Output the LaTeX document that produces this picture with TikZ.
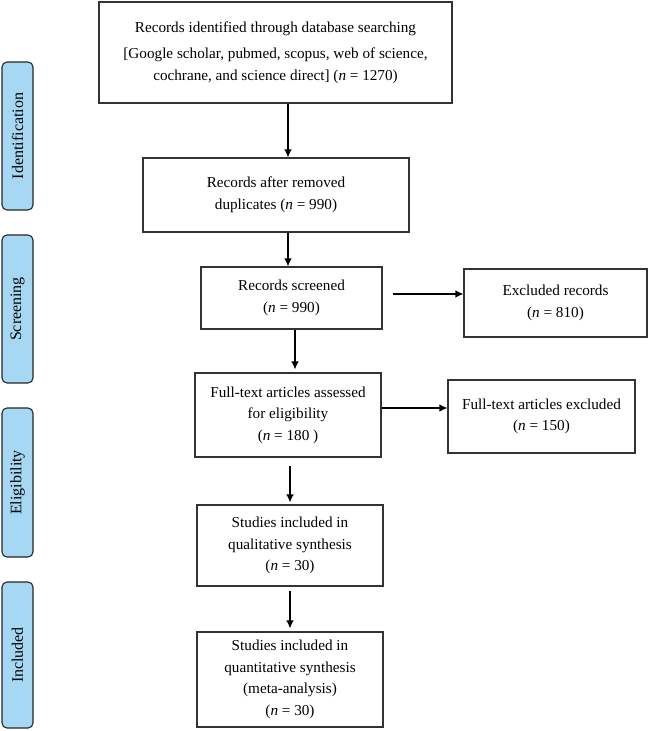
\documentclass[tikz,border=0pt]{standalone}
\usepackage{fontspec}
\setmainfont{Liberation Serif}
\usetikzlibrary{arrows.meta}
\definecolor{tabblue}{RGB}{166,216,244}

\begin{document}
\begin{tikzpicture}[x=1pt, y=-1pt,
	font=\fontsize{15.2}{21.5}\selectfont,
	box/.style={draw=black!80, line width=1.1pt, align=center, inner sep=0pt},
	phase/.style={draw=black!85, line width=1.1pt, rounded corners=5pt, fill=tabblue, minimum width=31pt, inner sep=0pt, font=\fontsize{16}{20}\selectfont},
	arr/.style={line width=1.2pt, -{Latex[length=8pt, width=7.5pt]}}]
\useasboundingbox (0,0) rectangle (651,731);

	%% Phasen links
	\node[phase, minimum height=148pt] (ident) at (17.5,136) {\rotatebox{90}{Identification}};
	\node[phase, minimum height=148pt] (screen) at (17.5,309) {\rotatebox{90}{Screening}};
	\node[phase, minimum height=149pt] (elig) at (17.5,482.5) {\rotatebox{90}{Eligibility}};
	\node[phase, minimum height=146pt] (incl) at (17.5,655) {\rotatebox{90}{Included}};
	%%%%%%%%%%%%%%%%

	%% Kaesten
	\node[box, minimum width=353pt, minimum height=101pt] (found) at (275.5,52.5) {\raisebox{-3pt}{Records identified through database searching}\\[8pt]
		[Google scholar, pubmed, scopus, web of science,\\ cochrane, and science direct] (\textit{n} = 1270)};
	\node[box, minimum width=266pt, minimum height=74pt] (dupl) at (276,195) {Records after removed\\ duplicates (\textit{n} = 990)};
	\node[box, minimum width=181pt, minimum height=62pt] (screened) at (291.5,298) {Records screened\\ (\textit{n} = 990)};
	\node[box, minimum width=183pt, minimum height=68pt] (excl) at (555.5,303) {Excluded records\\ (\textit{n} = 810)};
	\node[box, minimum width=186pt, minimum height=84pt] (full) at (288,415) {Full-text articles assessed\\ for eligibility\\ (\textit{n} = 180 )};
	\node[box, minimum width=187pt, minimum height=73pt] (fullexcl) at (541.5,416.5) {Full-text articles excluded\\ (\textit{n} = 150)};
	\node[box, minimum width=186pt, minimum height=81pt] (qual) at (290,545.5) {Studies included in\\ qualitative synthesis\\ (\textit{n} = 30)};
	\node[box, minimum width=186pt, minimum height=95pt] (quant) at (290,679.5) {Studies included in\\ quantitative synthesis\\ (meta-analysis)\\ (\textit{n} = 30)};
	%%%%%%%%%%%%%%%%

	%% Pfeile
	\draw[arr] ([xshift=12.5pt]found.south) -- ([xshift=12.5pt]found.south |- dupl.north);
	\draw[arr] ([xshift=12pt]dupl.south) -- ([xshift=12pt]dupl.south |- screened.north);
	\draw[arr, shorten <=10pt] ([yshift=4pt]screened.east) -- ([yshift=4pt]screened.east -| excl.west);
	\draw[arr, shorten >=3pt] ([xshift=3.5pt]screened.south) -- ([xshift=3.5pt]screened.south |- full.north);
	\draw[arr] ([yshift=7pt]full.east) -- ([yshift=7pt]full.east -| fullexcl.west);
	\draw[arr, shorten <=8pt, shorten >=2pt] ([xshift=2pt]full.south) -- ([xshift=2pt]full.south |- qual.north);
	\draw[arr, shorten <=4pt, shorten >=3pt] (qual.south) -- (quant.north);
\end{tikzpicture}
\end{document}
